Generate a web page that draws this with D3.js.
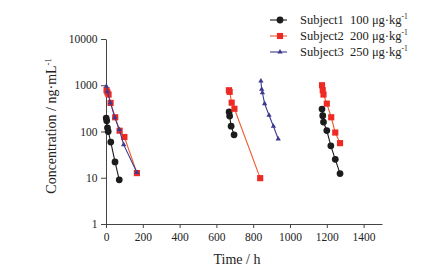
<!DOCTYPE html>
<html>
<head>
<meta charset="utf-8">
<script src="https://cdn.jsdelivr.net/npm/d3@7"></script>
<style>
  body { margin: 0; background: #fff; }
  text { font-family: "Liberation Serif", "DejaVu Serif", serif; fill: #222; }
</style>
</head>
<body>
<div id="chart"></div>
<script>
// time (h) and concentration (ng/mL) per dose, per subject
const s1Times = [[1, 4, 8, 12, 26, 49, 72], [669, 672, 680, 696], [1174, 1178, 1182, 1200, 1222, 1246, 1272]]
const s1Values = [[195, 170, 120, 100, 59, 22, 9], [265, 215, 130, 85], [305, 220, 160, 105, 49, 25, 12.3]]

const s2Times = [[3, 8, 14, 25, 50, 74, 100, 168], [668, 672, 683, 698, 838], [1174, 1178, 1182, 1200, 1224, 1246, 1272]]
const s2Values = [[780, 700, 630, 415, 203, 104, 76, 12.6], [780, 720, 420, 310, 9.8], [1000, 780, 630, 400, 203, 95, 56]]

const s3Times = [[2, 8, 24, 48, 72, 96, 168], [842, 846, 850, 862, 886, 910, 936]]
const s3Values = [[950, 720, 420, 200, 110, 52, 13], [1230, 820, 690, 400, 225, 130, 69]]

const legendLabels = ['Subject1', 'Subject2', 'Subject3']
const legendDoses = ['100 μg·kg', '200 μg·kg', '250 μg·kg']
const xTicks = [0, 200, 400, 600, 800, 1000, 1200, 1400]
const yTicks = [1, 10, 100, 1000, 10000]

const width = 426, height = 275
const margin = { left: 106, right: 44, top: 39, bottom: 51 }

const svg = d3.select('#chart').append('svg')
    .attr('width', width)
    .attr('height', height)

const x = d3.scaleLinear().domain([0, 1500]).range([margin.left, width - margin.right])
const y = d3.scaleLog().domain([1, 10000]).range([height - margin.bottom, margin.top])

// axes
const xAxis = svg.append('g')
    .attr('transform', 'translate(0,' + (height - margin.bottom) + ')')
    .call(d3.axisBottom(x).tickValues(xTicks).tickSize(4).tickSizeOuter(0).tickFormat(d3.format('d')))
const yAxis = svg.append('g')
    .attr('transform', 'translate(' + margin.left + ',0)')
    .call(d3.axisLeft(y).tickValues(yTicks).tickSize(5).tickSizeOuter(0).tickFormat(d3.format('d')))

svg.selectAll('.domain, .tick line').attr('stroke', '#444').attr('stroke-width', 1)
xAxis.selectAll('text').attr('font-size', 11.5).attr('font-family', 'Liberation Serif').attr('fill', '#2a2a2a').attr('dy', '0.85em')
yAxis.selectAll('text').attr('font-size', 11.5).attr('font-family', 'Liberation Serif').attr('fill', '#2a2a2a').attr('dx', '-0.05em')

// axis titles
svg.append('text')
    .attr('x', 237).attr('y', 264)
    .attr('text-anchor', 'middle')
    .attr('font-size', 14)
    .text('Time / h')

const yTitle = svg.append('text')
    .attr('transform', 'translate(56,' + 126 + ') rotate(-90)')
    .attr('text-anchor', 'middle')
    .attr('font-size', 14)
yTitle.append('tspan').text('Concentration / ng·mL')
yTitle.append('tspan').attr('font-size', 8.5).attr('dy', -5).text('-1')

// series
const series = [
    { times: s1Times, values: s1Values, line: '#1c1c1c', fill: '#1c1c1c', shape: d3.symbolCircle, size: 36 },
    { times: s2Times, values: s2Values, line: '#ef5a2c', fill: '#ee2a24', shape: d3.symbolSquare, size: 38 },
    { times: s3Times, values: s3Values, line: '#3d3a8e', fill: '#3d3a8e', shape: d3.symbolTriangle, size: 12 }
]

const line = d3.line().x(d => x(d[0])).y(d => y(d[1]))

series.forEach(s => {
    const g = svg.append('g')
    s.times.forEach((ts, i) => {
        const pts = ts.map((t, j) => [t, s.values[i][j]])
        g.append('path')
            .attr('d', line(pts))
            .attr('fill', 'none')
            .attr('stroke', s.line)
            .attr('stroke-width', 1.1)
        g.selectAll(null)
            .data(pts)
            .enter()
            .append('path')
            .attr('d', d3.symbol().type(s.shape).size(s.size))
            .attr('transform', d => 'translate(' + x(d[0]) + ',' + y(d[1]) + ')')
            .attr('fill', s.fill)
    })
})

// legend
const legend = svg.append('g')
series.forEach((s, i) => {
    const ly = 20 + i * 16
    legend.append('line')
        .attr('x1', 270).attr('x2', 287)
        .attr('y1', ly).attr('y2', ly)
        .attr('stroke', s.line).attr('stroke-width', 1.1)
    legend.append('path')
        .attr('d', d3.symbol().type(s.shape).size(s.size))
        .attr('transform', 'translate(280,' + ly + ')')
        .attr('fill', s.fill)
    legend.append('text')
        .attr('x', 300).attr('y', ly + 4)
        .attr('font-size', 12.5)
        .text(legendLabels[i])
    const t = legend.append('text')
        .attr('x', 350).attr('y', ly + 4)
        .attr('font-size', 12.5)
    t.append('tspan').text(legendDoses[i])
    t.append('tspan').attr('font-size', 7.5).attr('dy', -5).text('-1')
})
</script>
</body>
</html>
